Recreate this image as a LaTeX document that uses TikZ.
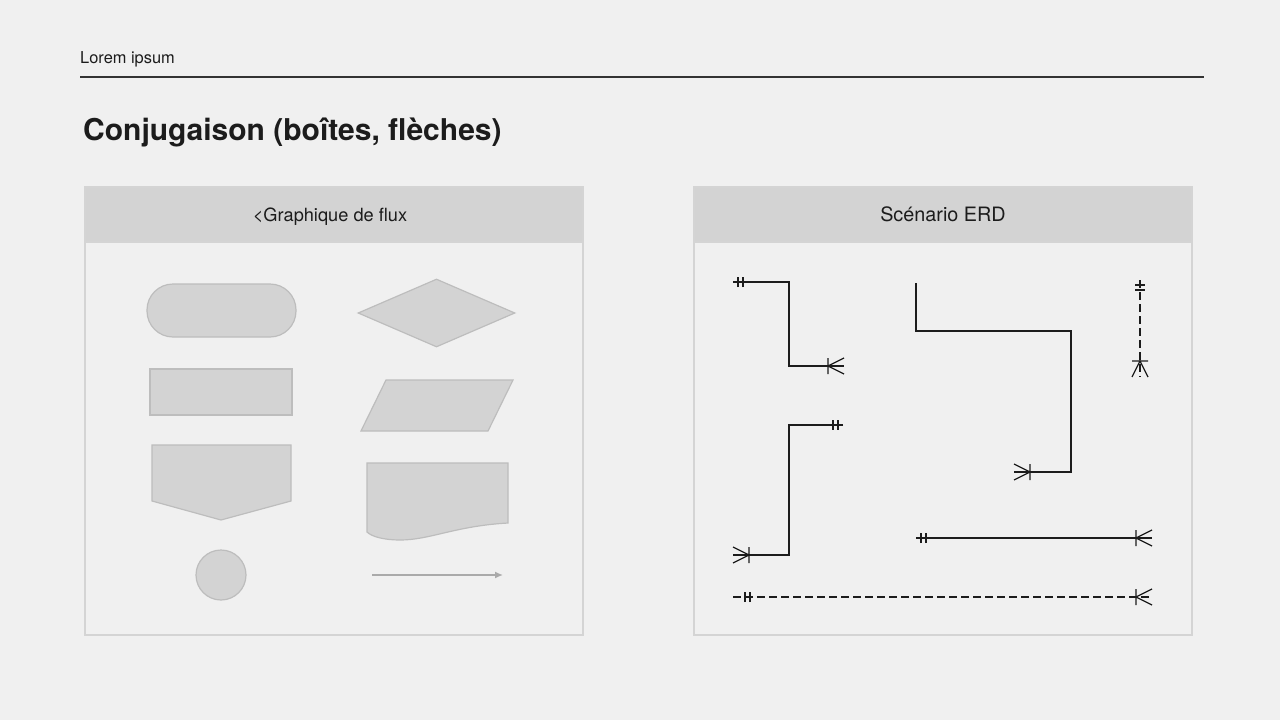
\documentclass[tikz,border=0pt]{standalone}
\usepackage{fontspec}
\setmainfont{TeX Gyre Heros}
\usepackage{xcolor}
\definecolor{pagebg}{HTML}{F0F0F0}
\definecolor{headfill}{HTML}{D3D3D3}
\definecolor{panelline}{HTML}{D4D4D4}
\definecolor{shapefill}{HTML}{D3D3D3}
\definecolor{shapeline}{HTML}{BDBDBD}
\definecolor{ink}{HTML}{1C1C1C}
\usetikzlibrary{shapes.geometric, arrows.meta, positioning}
\tikzstyle{brand}=[anchor=base west, inner sep=0pt, text=ink, font=\fontsize{16.4}{19}\selectfont]
\tikzstyle{title}=[anchor=base west, inner sep=0pt, text=ink, font=\bfseries\fontsize{30}{36}\selectfont]
\tikzstyle{rule}=[ink!90, line width=1.3pt]
\tikzstyle{panel}=[rectangle, draw=panelline, line width=2pt, fill=pagebg, minimum width=498pt, minimum height=448pt, inner sep=0pt]
\tikzstyle{panelhead}=[rectangle, draw=panelline, line width=2pt, fill=headfill, minimum width=498pt, minimum height=55pt, inner sep=0pt, text=ink, text depth=0pt, font=\fontsize{18.2}{21}\selectfont]
\tikzstyle{flowshape}=[draw=shapeline, fill=shapefill, line width=1.2pt, inner sep=0pt]
\tikzstyle{terminal}=[flowshape, rectangle, rounded corners=26pt, minimum width=149pt, minimum height=53pt]
\tikzstyle{decision}=[flowshape, diamond, aspect=2.3, minimum width=157pt, minimum height=68pt]
\tikzstyle{processbox}=[flowshape, rectangle, minimum width=142pt, minimum height=46pt]
\tikzstyle{joint}=[flowshape, circle, minimum size=50pt]
\tikzstyle{flowarrow}=[shapeline!90!black, line width=1.5pt, -{Latex[length=8pt, width=7pt]}]
\tikzstyle{rel}=[ink, line width=1.3pt]
\tikzstyle{reldash}=[rel, dash pattern=on 8pt off 4pt]
\tikzset{
  onemark/.pic={\draw[rel, solid] (-5,-5)--(-5,5) (-10,-5)--(-10,5);},
  manymark/.pic={\draw[rel, solid] (-16,-8)--(-16,8) (0,-8)--(-16,0)--(0,8);}
}

\begin{document}
\begin{tikzpicture}[x=1pt, y=-1pt]
		\fill[pagebg](0,0) rectangle (1280,720);
		
		\node(brand)[brand] at (80,63){Lorem ipsum};
		\draw[rule](80,77)--(1204,77);
		\node(title)[title] at (83,140){Conjugaison (boîtes, flèches)};
		
		
		\node(flow)[panel] at (334,411){};
		\node(flow-head)[panelhead, below=0pt of flow.north]{};
		\node(flow-title)[font=\fontsize{18.2}{21}\selectfont, text=ink, text depth=0pt, inner sep=0pt] at (330,215){<Graphique de flux};
		
		\node(erd)[panel] at (943,411){};
		\node(erd-head)[panelhead, below=0pt of erd.north, font=\fontsize{19.8}{23}\selectfont]{Scénario ERD};
		
		
		% flowchart shapes
		\node(start)[terminal] at (221.5,310.5){};
		\node(decide)[decision] at (436.5,313){};
		\node(process)[processbox] at (221,392){};
		\draw[flowshape](386,380)--(513,380)--(488,431)--(361,431)--cycle;
		\draw[flowshape](152,445)--(291,445)--(291,501)--(221,520)--(152,501)--cycle;
		\draw[flowshape](367,463)--(508,463)--(508,523) .. controls (455,526) and (430,540) .. (400,540) .. controls (385,540) and (372,537) .. (367,532)--cycle;
		\node(joint)[joint] at (221,575){};
		\coordinate(f0) at (372,575);
		\coordinate(f1) at (503,575);
		\draw[flowarrow](f0)--(f1);
		
		
		% erd relations
		\coordinate(r1a) at (733,282);
		\coordinate(r1b) at (789,366);
		\coordinate(r1c) at (844,366);
		\draw[rel](r1a)-|(r1b)--(r1c);
		\pic[rotate=180] at (r1a){onemark};
		\pic at (r1c){manymark};
		
		\coordinate(r2a) at (916,283);
		\coordinate(r2b) at (1071,331);
		\coordinate(r2c) at (1071,472);
		\coordinate(r2d) at (1014,472);
		\draw[rel](r2a)|-(r2b)--(r2c)--(r2d);
		\pic[rotate=180] at (r2d){manymark};
		
		\coordinate(r3a) at (1140,280);
		\coordinate(r3b) at (1140,377);
		\draw[reldash](r3a)--(r3b);
		\pic[rotate=90] at (r3a){onemark};
		\pic[rotate=-90] at (r3b){manymark};
		
		\coordinate(r4a) at (843,425);
		\coordinate(r4b) at (789,555);
		\coordinate(r4c) at (733,555);
		\draw[rel](r4a)-|(r4b)--(r4c);
		\pic at (r4a){onemark};
		\pic[rotate=180] at (r4c){manymark};
		
		\coordinate(r5a) at (916,538);
		\coordinate(r5b) at (1152,538);
		\draw[rel](r5a)--(r5b);
		\pic[rotate=180] at (r5a){onemark};
		\pic at (r5b){manymark};
		
		\coordinate(r6a) at (733,597);
		\coordinate(r6b) at (1152,597);
		\draw[reldash](r6a)--(r6b);
		\pic[rotate=180] at (740,597){onemark};
		\pic at (r6b){manymark};
		
	\end{tikzpicture}
\end{document}
